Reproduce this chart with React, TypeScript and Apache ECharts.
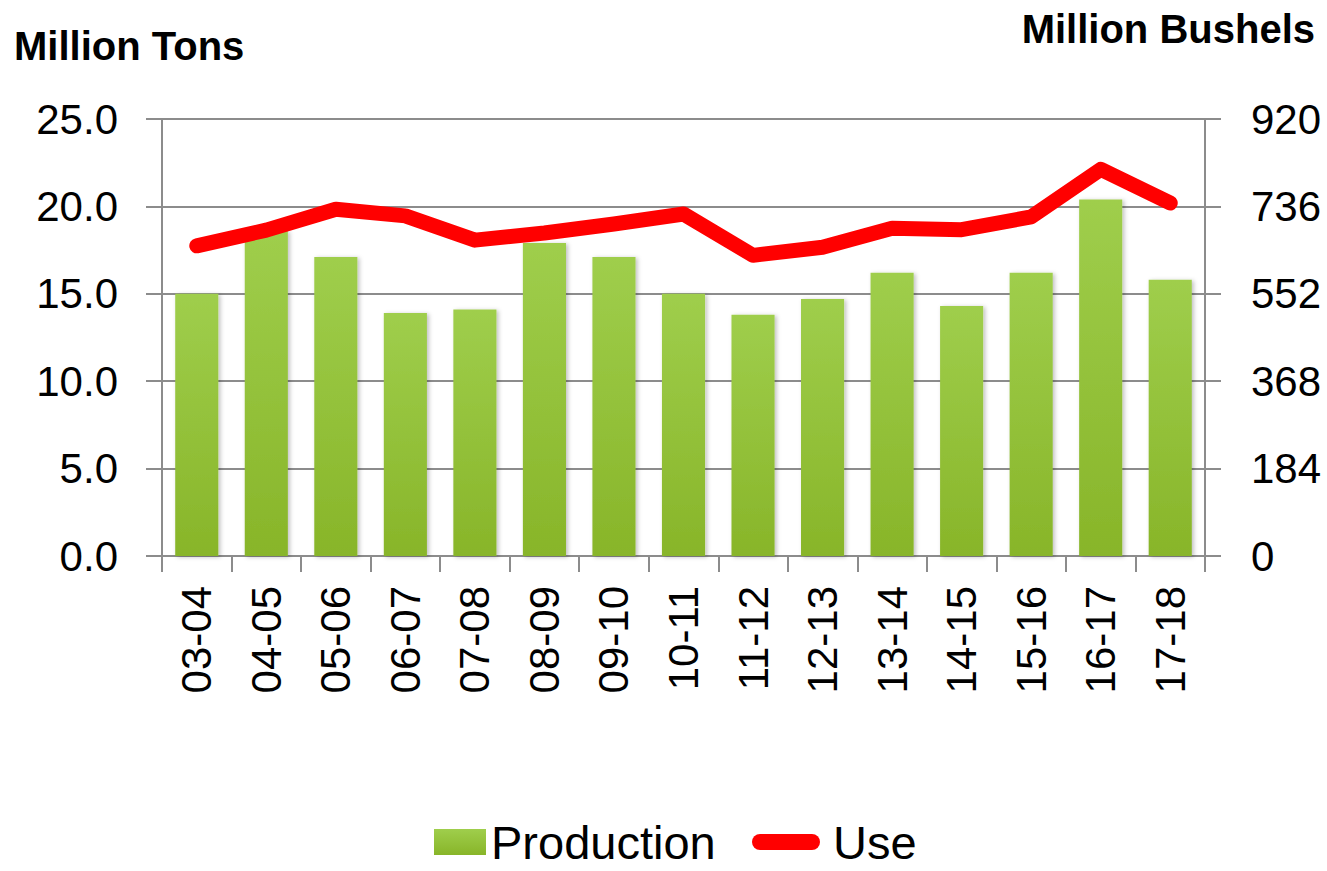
import React, { useEffect, useRef } from "react";
import * as echarts from "echarts";

const categories = ["03-04", "04-05", "05-06", "06-07", "07-08", "08-09", "09-10", "10-11", "11-12", "12-13", "13-14", "14-15", "15-16", "16-17", "17-18"];
const production = [15.0, 18.6, 17.1, 13.9, 14.1, 17.9, 17.1, 15.0, 13.8, 14.7, 16.2, 14.3, 16.2, 20.4, 15.8];
const useBushels = [653, 686, 730, 716, 665, 680, 699, 720, 633, 650, 690, 687, 714, 814, 743];
const leftTitle = "Million Tons";
const rightTitle = "Million Bushels";

const AXIS_GRAY = "#8c8c8c";
const FONT = "'Liberation Sans', Arial, sans-serif";

export default function App() {
  const ref = useRef<HTMLDivElement>(null);
  useEffect(() => {
    if (!ref.current) return;
    const chart = echarts.init(ref.current, null, { renderer: "svg" });
    const axisCommon = {
      axisLine: { show: true, lineStyle: { color: AXIS_GRAY, width: 2 } },
      axisTick: { show: true, length: 16, lineStyle: { color: AXIS_GRAY, width: 2 } },
      splitLine: { show: false },
    };
    chart.setOption({
      animation: false,
      textStyle: { fontFamily: FONT },
      graphic: [
        {
          type: "text",
          left: 14,
          top: 26,
          style: { text: leftTitle, font: `bold 40px ${FONT}`, fill: "#000" },
        },
        {
          type: "text",
          right: 12,
          top: 9,
          style: { text: rightTitle, font: `bold 40px ${FONT}`, fill: "#000" },
        },
      ],
      legend: [
        {
          data: ["Production"],
          left: 429,
          top: 813,
          itemWidth: 52,
          itemHeight: 26,
          icon: "rect",
          textStyle: { fontSize: 47, color: "#000", fontFamily: FONT, lineHeight: 48 },
        },
        {
          data: ["Use"],
          left: 747,
          top: 813,
          itemWidth: 68,
          itemHeight: 16,
          icon: "path://M8,0L60,0A8,8,0,0,1,60,16L8,16A8,8,0,0,1,8,0Z",
          itemStyle: { color: "#ff0000", borderWidth: 0 },
          textStyle: { fontSize: 47, color: "#000", fontFamily: FONT, lineHeight: 48, padding: [0, 0, 0, 8] },
        },
      ],
      grid: { left: 162, right: 122, top: 119, bottom: 315, containLabel: false },
      xAxis: {
        type: "category",
        data: categories,
        boundaryGap: true,
        ...axisCommon,
        axisTick: { show: true, length: 16, alignWithLabel: false, lineStyle: { color: AXIS_GRAY, width: 2 } },
        axisLabel: { rotate: 90, fontSize: 42, color: "#000", margin: 30, fontFamily: FONT, interval: 0 },
      },
      yAxis: [
        {
          type: "value",
          min: 0,
          max: 25,
          interval: 5,
          ...axisCommon,
          splitLine: { show: true, lineStyle: { color: AXIS_GRAY, width: 2 } },
          axisLabel: {
            fontSize: 42,
            color: "#000",
            margin: 44,
            fontFamily: FONT,
            formatter: (v: number) => v.toFixed(1),
          },
        },
        {
          type: "value",
          min: 0,
          max: 920,
          interval: 184,
          position: "right",
          ...axisCommon,
          axisLabel: { fontSize: 42, color: "#000", margin: 46, fontFamily: FONT },
        },
      ],
      series: [
        {
          name: "Production",
          type: "bar",
          data: production,
          barWidth: "62%",
          itemStyle: {
            color: new echarts.graphic.LinearGradient(0, 0, 0, 1, [
              { offset: 0, color: "#9fce4c" },
              { offset: 1, color: "#88b529" },
            ]),
            shadowColor: "rgba(0,0,0,0.25)",
            shadowBlur: 4,
            shadowOffsetX: 2,
            shadowOffsetY: 1,
          },
        },
        {
          name: "Use",
          type: "line",
          yAxisIndex: 1,
          data: useBushels,
          symbol: "none",
          color: "#ff0000",
          itemStyle: { color: "#ff0000" },
          lineStyle: { color: "#ff0000", width: 15, cap: "round", join: "round" },
          z: 5,
        },
      ],
    });
    return () => chart.dispose();
  }, []);
  return (
    <div
      ref={ref}
      style={{ position: "fixed", left: 0, top: 0, width: 1327, height: 871, background: "#fff" }}
    />
  );
}
